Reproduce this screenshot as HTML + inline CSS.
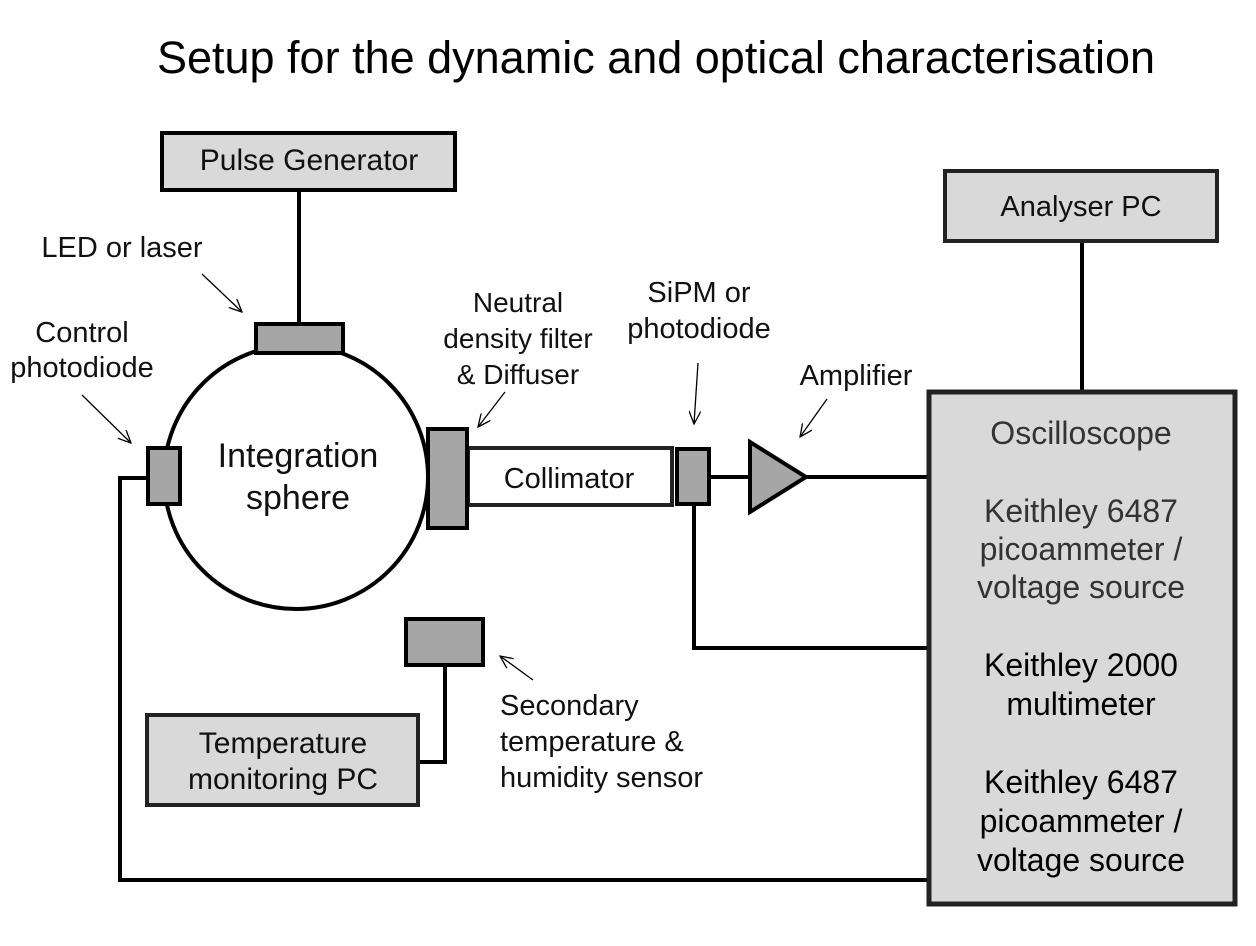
<!DOCTYPE html>
<html><head><style>
body{margin:0;background:#fff}
svg{display:block}
text{font-family:"Liberation Sans",Arial,sans-serif}
</style></head><body>
<svg width="1256" height="946" viewBox="0 0 1256 946" xmlns="http://www.w3.org/2000/svg">
<defs><marker id="a" markerWidth="14" markerHeight="12" refX="13" refY="6" orient="auto" markerUnits="userSpaceOnUse"><path d="M0,0 L13,6 L0,12" fill="none" stroke="#000" stroke-width="1.3"/></marker></defs>
<text x="656" y="73" font-size="45" text-anchor="middle">Setup for the dynamic and optical characterisation</text>
<g stroke="#000" stroke-width="4" fill="none">
<line x1="299" y1="190" x2="299" y2="323"/>
<line x1="1082" y1="241" x2="1082" y2="392"/>
<polyline points="147,478 120,478 120,880 928,880"/>
<line x1="710" y1="477" x2="750" y2="477"/>
<line x1="807" y1="477" x2="930" y2="477"/>
<polyline points="694,505 694,648 928,648"/>
<polyline points="445,666 445,762 418,762"/>
<circle cx="296" cy="477" r="132"/>
</g>
<g stroke="#000" stroke-width="4">
<rect x="162" y="133" width="293" height="57" fill="#d9d9d9"/>
<rect x="945" y="171" width="272" height="70" fill="#d9d9d9" stroke="#222"/>
<rect x="929" y="392" width="306" height="512" fill="#d9d9d9" stroke="#222" stroke-width="5"/>
<rect x="147" y="715" width="271" height="90" fill="#d9d9d9" stroke="#222"/>
<rect x="468" y="448" width="204" height="57" fill="#fff" stroke="#222"/>
<rect x="256" y="324" width="87" height="29" fill="#a6a6a6"/>
<rect x="148" y="448" width="32" height="56" fill="#a6a6a6"/>
<rect x="428" y="429" width="39" height="99" fill="#a6a6a6"/>
<rect x="677" y="449" width="32" height="55" fill="#a6a6a6"/>
<rect x="406" y="619" width="77" height="46" fill="#a6a6a6"/>
<polygon points="750,442 750,512 806,477" fill="#a6a6a6"/>
</g>
<g stroke="#000" stroke-width="1.3" marker-end="url(#a)">
<line x1="202" y1="274" x2="242" y2="312"/>
<line x1="82" y1="395" x2="131" y2="443"/>
<line x1="505" y1="392" x2="478" y2="427"/>
<line x1="698" y1="363" x2="694" y2="424"/>
<line x1="827" y1="399" x2="800" y2="437"/>
<line x1="533" y1="680" x2="500" y2="656"/>
</g>
<g font-size="29" text-anchor="middle" fill="#111">
<text x="309" y="170" font-size="30">Pulse Generator</text>
<text x="1081" y="216">Analyser PC</text>
<text x="122" y="257">LED or laser</text>
<text x="82" y="342">Control</text>
<text x="82" y="377">photodiode</text>
<text x="518" y="312" font-size="28">Neutral</text>
<text x="518" y="348" font-size="28">density filter</text>
<text x="518" y="384" font-size="28">&amp; Diffuser</text>
<text x="699" y="302">SiPM or</text>
<text x="699" y="338">photodiode</text>
<text x="856" y="385">Amplifier</text>
<text x="569" y="488">Collimator</text>
<text x="283" y="753" font-size="30">Temperature</text>
<text x="283" y="789" font-size="30">monitoring PC</text>
<text x="298" y="467" font-size="34">Integration</text>
<text x="298" y="509" font-size="34">sphere</text>
</g>
<g font-size="29" fill="#111">
<text x="500" y="715">Secondary</text>
<text x="500" y="751">temperature &amp;</text>
<text x="500" y="787">humidity sensor</text>
</g>
<g font-size="32" text-anchor="middle">
<text x="1081" y="444" fill="#333">Oscilloscope</text>
<text x="1081" y="522" fill="#333">Keithley 6487</text>
<text x="1081" y="560" fill="#333">picoammeter /</text>
<text x="1081" y="598" fill="#333">voltage source</text>
<text x="1081" y="676" fill="#000">Keithley 2000</text>
<text x="1081" y="715" fill="#000">multimeter</text>
<text x="1081" y="793" fill="#000">Keithley 6487</text>
<text x="1081" y="832" fill="#000">picoammeter /</text>
<text x="1081" y="871" fill="#000">voltage source</text>
</g>
</svg>
</body></html>
